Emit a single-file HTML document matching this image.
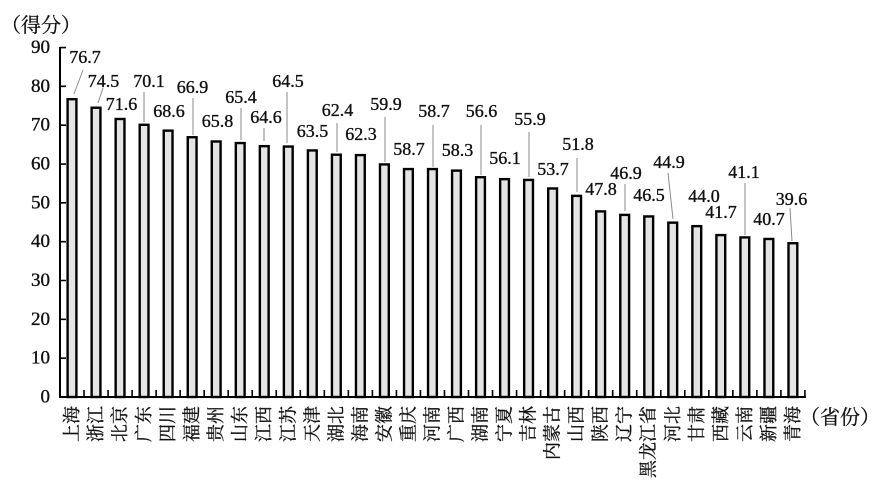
<!DOCTYPE html>
<html>
<head>
<meta charset="utf-8">
<style>
  html,body{margin:0;padding:0;background:#fff;}
  svg{display:block;}
  .num{font-family:"Liberation Serif","Noto Serif CJK SC",serif;font-size:18px;fill:#111;stroke:#111;stroke-width:0.35px;}
  .yl{font-family:"Liberation Serif",serif;font-size:19px;fill:#111;stroke:#111;stroke-width:0.35px;}
  .cat{font-family:"Liberation Serif","Noto Serif CJK SC",serif;font-size:18px;fill:#111;stroke:#111;stroke-width:0.3px;}
  .ttl{font-family:"Liberation Serif","Noto Serif CJK SC",serif;font-size:20px;fill:#111;stroke:#111;stroke-width:0.3px;}
</style>
</head>
<body>
<svg width="882" height="485" viewBox="0 0 882 485" xmlns="http://www.w3.org/2000/svg">
  <rect width="882" height="485" fill="#fff"/>
  <text class="ttl" x="1" y="32">（得分）</text>
  <text class="ttl" x="800" y="424">（省份）</text>

  <!-- y axis labels -->
  <g class="yl" text-anchor="end" dominant-baseline="central">
    <text x="50" y="397">0</text>
    <text x="50" y="358.2">10</text>
    <text x="50" y="319.3">20</text>
    <text x="50" y="280.5">30</text>
    <text x="50" y="241.7">40</text>
    <text x="50" y="202.9">50</text>
    <text x="50" y="164">60</text>
    <text x="50" y="125.2">70</text>
    <text x="50" y="86.4">80</text>
    <text x="50" y="47.5">90</text>
  </g>

  <!-- bars -->
  <g fill="#e4e4e4" stroke="#000" stroke-width="2.4">
    <rect x="67.60" y="99.17" width="8.8" height="297.83"/>
    <rect x="91.63" y="107.72" width="8.8" height="289.28"/>
    <rect x="115.66" y="118.98" width="8.8" height="278.02"/>
    <rect x="139.69" y="124.80" width="8.8" height="272.20"/>
    <rect x="163.72" y="130.63" width="8.8" height="266.37"/>
    <rect x="187.75" y="137.23" width="8.8" height="259.77"/>
    <rect x="211.78" y="141.50" width="8.8" height="255.50"/>
    <rect x="235.81" y="143.05" width="8.8" height="253.95"/>
    <rect x="259.84" y="146.16" width="8.8" height="250.84"/>
    <rect x="283.87" y="146.55" width="8.8" height="250.45"/>
    <rect x="307.90" y="150.43" width="8.8" height="246.57"/>
    <rect x="331.93" y="154.70" width="8.8" height="242.30"/>
    <rect x="355.96" y="155.09" width="8.8" height="241.91"/>
    <rect x="379.99" y="164.41" width="8.8" height="232.59"/>
    <rect x="404.02" y="169.07" width="8.8" height="227.93"/>
    <rect x="428.05" y="169.07" width="8.8" height="227.93"/>
    <rect x="452.08" y="170.62" width="8.8" height="226.38"/>
    <rect x="476.11" y="177.22" width="8.8" height="219.78"/>
    <rect x="500.14" y="179.16" width="8.8" height="217.84"/>
    <rect x="524.17" y="179.94" width="8.8" height="217.06"/>
    <rect x="548.20" y="188.48" width="8.8" height="208.52"/>
    <rect x="572.23" y="195.86" width="8.8" height="201.14"/>
    <rect x="596.26" y="211.39" width="8.8" height="185.61"/>
    <rect x="620.29" y="214.89" width="8.8" height="182.11"/>
    <rect x="644.32" y="216.44" width="8.8" height="180.56"/>
    <rect x="668.35" y="222.65" width="8.8" height="174.35"/>
    <rect x="692.38" y="226.15" width="8.8" height="170.85"/>
    <rect x="716.41" y="235.08" width="8.8" height="161.92"/>
    <rect x="740.44" y="237.41" width="8.8" height="159.59"/>
    <rect x="764.47" y="238.96" width="8.8" height="158.04"/>
    <rect x="788.50" y="243.23" width="8.8" height="153.77"/>
  </g>

  <!-- axes -->
  <g stroke="#000" stroke-width="2" fill="none">
    <line x1="60" y1="47" x2="60" y2="398"/>
    <line x1="59" y1="397" x2="806" y2="397"/>
  </g>
  <path stroke="#000" stroke-width="1.6" fill="none" d="
    M84.03 397V390 M108.06 397V390 M132.09 397V390 M156.12 397V390 M180.15 397V390
    M204.18 397V390 M228.21 397V390 M252.24 397V390 M276.27 397V390 M300.30 397V390
    M324.33 397V390 M348.36 397V390 M372.39 397V390 M396.42 397V390 M420.45 397V390
    M444.48 397V390 M468.51 397V390 M492.54 397V390 M516.57 397V390 M540.60 397V390
    M564.63 397V390 M588.66 397V390 M612.69 397V390 M636.72 397V390 M660.75 397V390
    M684.78 397V390 M708.81 397V390 M732.84 397V390 M756.87 397V390 M780.90 397V390
    M804.93 397V390
    M60 358.17H66 M60 319.34H66 M60 280.51H66 M60 241.68H66 M60 202.85H66
    M60 164.02H66 M60 125.19H66 M60 86.36H66 M60 47.53H66"/>

  <!-- leader lines -->
  <g stroke="#8a8a8a" stroke-width="1">
    <line x1="83" y1="70" x2="74" y2="94"/>
    <line x1="103" y1="88" x2="98" y2="103"/>
    <line x1="144" y1="92" x2="144" y2="122"/>
    <line x1="193" y1="98" x2="193" y2="135"/>
    <line x1="241" y1="108" x2="241" y2="140"/>
    <line x1="264" y1="128" x2="264" y2="141"/>
    <line x1="287" y1="92" x2="287" y2="143"/>
    <line x1="337" y1="123" x2="337" y2="152"/>
    <line x1="385" y1="117" x2="385" y2="162"/>
    <line x1="433" y1="125" x2="433" y2="167"/>
    <line x1="481" y1="125" x2="481" y2="175"/>
    <line x1="529" y1="132" x2="529" y2="177"/>
    <line x1="577" y1="158" x2="577" y2="192"/>
    <line x1="625" y1="184" x2="625" y2="211"/>
    <line x1="668" y1="173" x2="673" y2="219"/>
    <line x1="745" y1="183" x2="745" y2="235"/>
    <line x1="790" y1="208" x2="792" y2="241"/>
  </g>

  <!-- value labels -->
  <g class="num" text-anchor="middle">
    <text x="85" y="63">76.7</text>
    <text x="103.5" y="87">74.5</text>
    <text x="121.5" y="110">71.6</text>
    <text x="149" y="87">70.1</text>
    <text x="169" y="117">68.6</text>
    <text x="192.5" y="93">66.9</text>
    <text x="217.5" y="127">65.8</text>
    <text x="241" y="103">65.4</text>
    <text x="266" y="123">64.6</text>
    <text x="288" y="87">64.5</text>
    <text x="312.5" y="137">63.5</text>
    <text x="337.5" y="116">62.4</text>
    <text x="361" y="140">62.3</text>
    <text x="386" y="110">59.9</text>
    <text x="409" y="155">58.7</text>
    <text x="434" y="117">58.7</text>
    <text x="457.5" y="156">58.3</text>
    <text x="481.5" y="117">56.6</text>
    <text x="505" y="164">56.1</text>
    <text x="530" y="125">55.9</text>
    <text x="553" y="175">53.7</text>
    <text x="578" y="150">51.8</text>
    <text x="601" y="195">47.8</text>
    <text x="626" y="179">46.9</text>
    <text x="649" y="201">46.5</text>
    <text x="669" y="168">44.9</text>
    <text x="704" y="202">44.0</text>
    <text x="721" y="218">41.7</text>
    <text x="744" y="178">41.1</text>
    <text x="769" y="225">40.7</text>
    <text x="791.5" y="205">39.6</text>
  </g>

  <!-- category labels -->
  <g class="cat" text-anchor="end" dominant-baseline="central">
    <text transform="translate(72.00,406) rotate(-90)">上海</text>
    <text transform="translate(96.03,406) rotate(-90)">浙江</text>
    <text transform="translate(120.06,406) rotate(-90)">北京</text>
    <text transform="translate(144.09,406) rotate(-90)">广东</text>
    <text transform="translate(168.12,406) rotate(-90)">四川</text>
    <text transform="translate(192.15,406) rotate(-90)">福建</text>
    <text transform="translate(216.18,406) rotate(-90)">贵州</text>
    <text transform="translate(240.21,406) rotate(-90)">山东</text>
    <text transform="translate(264.24,406) rotate(-90)">江西</text>
    <text transform="translate(288.27,406) rotate(-90)">江苏</text>
    <text transform="translate(312.30,406) rotate(-90)">天津</text>
    <text transform="translate(336.33,406) rotate(-90)">湖北</text>
    <text transform="translate(360.36,406) rotate(-90)">海南</text>
    <text transform="translate(384.39,406) rotate(-90)">安徽</text>
    <text transform="translate(408.42,406) rotate(-90)">重庆</text>
    <text transform="translate(432.45,406) rotate(-90)">河南</text>
    <text transform="translate(456.48,406) rotate(-90)">广西</text>
    <text transform="translate(480.51,406) rotate(-90)">湖南</text>
    <text transform="translate(504.54,406) rotate(-90)">宁夏</text>
    <text transform="translate(528.57,406) rotate(-90)">吉林</text>
    <text transform="translate(552.60,406) rotate(-90)">内蒙古</text>
    <text transform="translate(576.63,406) rotate(-90)">山西</text>
    <text transform="translate(600.66,406) rotate(-90)">陕西</text>
    <text transform="translate(624.69,406) rotate(-90)">辽宁</text>
    <text transform="translate(648.72,406) rotate(-90)">黑龙江省</text>
    <text transform="translate(672.75,406) rotate(-90)">河北</text>
    <text transform="translate(696.78,406) rotate(-90)">甘肃</text>
    <text transform="translate(720.81,406) rotate(-90)">西藏</text>
    <text transform="translate(744.84,406) rotate(-90)">云南</text>
    <text transform="translate(768.87,406) rotate(-90)">新疆</text>
    <text transform="translate(792.90,406) rotate(-90)">青海</text>
  </g>
</svg>
</body>
</html>
